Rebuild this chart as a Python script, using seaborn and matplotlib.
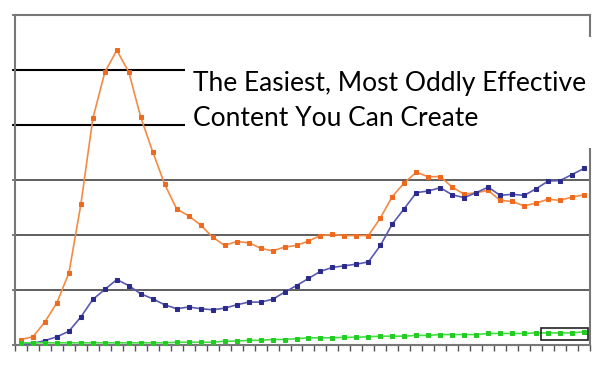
import numpy as np
import pandas as pd
import matplotlib
matplotlib.use("Agg")
import matplotlib.pyplot as plt
import seaborn as sns
from matplotlib.patches import Rectangle

# ---- data (one gridline = 1 unit) ----
orange = [0.10, 0.15, 0.42, 0.77, 1.31, 2.56, 4.12, 4.96, 5.36, 4.96,
          4.14, 3.51, 2.92, 2.47, 2.35, 2.18, 1.96, 1.81, 1.88, 1.86,
          1.76, 1.71, 1.78, 1.81, 1.89, 1.99, 2.01, 1.99, 1.99, 1.99,
          2.31, 2.70, 2.95, 3.14, 3.06, 3.06, 2.87, 2.74, 2.77, 2.81,
          2.63, 2.61, 2.53, 2.58, 2.65, 2.63, 2.69, 2.73]
blue = [0.01, 0.03, 0.08, 0.15, 0.25, 0.51, 0.83, 1.01, 1.19, 1.08,
        0.93, 0.84, 0.73, 0.66, 0.69, 0.66, 0.64, 0.67, 0.73, 0.78,
        0.78, 0.83, 0.96, 1.08, 1.21, 1.34, 1.41, 1.44, 1.47, 1.51,
        1.81, 2.20, 2.48, 2.77, 2.80, 2.86, 2.73, 2.68, 2.77, 2.87,
        2.72, 2.74, 2.72, 2.84, 2.98, 2.99, 3.10, 3.21]
green = [0.04, 0.04, 0.04, 0.04, 0.04, 0.04, 0.04, 0.04, 0.04, 0.04,
         0.04, 0.04, 0.04, 0.05, 0.05, 0.05, 0.05, 0.07, 0.07, 0.085,
         0.085, 0.10, 0.10, 0.115, 0.13, 0.13, 0.13, 0.14, 0.14, 0.15,
         0.16, 0.16, 0.16, 0.175, 0.175, 0.19, 0.19, 0.19, 0.19, 0.21,
         0.21, 0.21, 0.21, 0.22, 0.22, 0.22, 0.22, 0.24]
series_names = ["orange", "blue", "green"]
title_lines = ["The Easiest, Most Oddly Effective", "Content You Can Create"]
y_max = 6

n = len(orange)
periods = list(range(n))
df = pd.DataFrame({
    "period": periods * 3,
    "value": orange + blue + green,
    "series": [s for s in series_names for _ in periods],
})

sns.set_theme(style="white")
plt.rcParams["font.family"] = ["Lato", "DejaVu Sans"]

fig = plt.figure(figsize=(6.0, 3.73), dpi=100)
ax = fig.add_axes([15 / 600, 28 / 373, 575 / 600, 330 / 373])

line_cols = {"orange": "#F58A45", "blue": "#5A5AB0", "green": "#44E044"}
mark_cols = {"orange": "#EE6A1E", "blue": "#2B2B8C", "green": "#22CC22"}

for s in series_names:
    sub = df[df["series"] == s]
    sns.lineplot(data=sub, x="period", y="value", ax=ax, color=line_cols[s],
                 linewidth=1.2, marker="s", markersize=2.8,
                 markerfacecolor=mark_cols[s], markeredgecolor=mark_cols[s],
                 legend=False, zorder=3)

ax.set_xlim(-0.5, n - 0.5)
ax.set_ylim(0, y_max)
ax.set_xlabel("")
ax.set_ylabel("")

# gridlines
for y in range(1, y_max):
    ax.axhline(y, color="#5E5E5E", linewidth=1.4, zorder=1)

for sp in ax.spines.values():
    sp.set_visible(True)
    sp.set_color("#777777")
    sp.set_linewidth(1.5)

ax.set_xticks(np.arange(-0.5, n, 1))
ax.set_xticklabels([])
ax.set_yticks(range(0, y_max + 1))
ax.set_yticklabels([])
ax.tick_params(axis="x", direction="out", length=4, width=1, color="#555555", bottom=True)
ax.tick_params(axis="y", direction="out", length=2, width=1.2, color="#666666", left=True)

# highlight box around last green points
ax.add_patch(Rectangle((43.45, 0.085), 3.85, 0.23, fill=False,
                       edgecolor="#222222", linewidth=1.2, zorder=4))

# white title panel covering the upper right
fig.patches.append(Rectangle((185 / 600, 1 - 148 / 373), 415 / 600, 111 / 373,
                             transform=fig.transFigure, facecolor="white",
                             edgecolor="none", zorder=5))
# black gridline segments next to the title
for y in (5, 4):
    ax.axhline(y, xmin=-2 / 575, xmax=170 / 575, color="black", linewidth=1.5,
               zorder=2, clip_on=False)

t1 = fig.text(193 / 600, 1 - 91 / 373, title_lines[0], fontsize=20, fontweight="normal",
              color="black", ha="left", va="baseline", zorder=6)
t2 = fig.text(193 / 600, 1 - 126 / 373, title_lines[1], fontsize=20, fontweight="normal",
              color="black", ha="left", va="baseline", zorder=6)
fig.canvas.draw()
w1 = t1.get_window_extent().width
scale = 394.0 / w1
t1.set_fontsize(20 * scale)
t2.set_fontsize(20 * scale)

fig.savefig("out.png", dpi=100, facecolor="white")
